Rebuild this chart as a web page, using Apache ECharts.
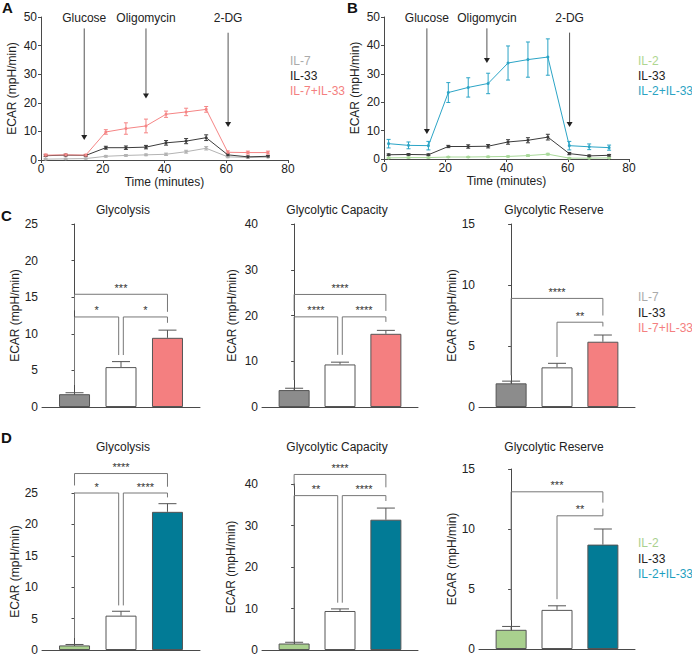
<!DOCTYPE html>
<html>
<head>
<meta charset="utf-8">
<script src="https://cdn.jsdelivr.net/npm/echarts@6/dist/echarts.min.js"></script>
<style>
  html, body { margin: 0; padding: 0; background: #fff; }
  #main { width: 692px; height: 656px; }
</style>
</head>
<body>
<div id="main"></div>
<script>
// ---- time course data (panels A, B) ----
var times = [1.5, 8, 14.5, 21, 27.5, 34, 40.5, 47, 53.5, 60.5, 67, 73.5];

var aIL7 = [0.3, 0.4, 0.5, 1.3, 1.6, 1.8, 2.0, 2.9, 4.1, 1.1, 0.9, 1.0];
var aIL7Err = [0.2, 0.2, 0.2, 0.3, 0.3, 0.3, 0.4, 0.5, 0.6, 0.3, 0.2, 0.2];
var aIL33 = [1.5, 1.7, 1.6, 4.3, 4.3, 4.5, 6.0, 6.6, 7.8, 1.8, 1.1, 1.3];
var aIL33Err = [0.3, 0.3, 0.3, 0.5, 0.6, 0.6, 0.8, 0.9, 1.0, 0.4, 0.3, 0.3];
var aBoth = [1.7, 1.8, 1.7, 9.8, 11.0, 11.9, 16.0, 16.8, 17.7, 2.7, 2.6, 2.6];
var aBothErr = [0.4, 0.3, 0.3, 0.8, 2.0, 2.4, 1.1, 1.3, 1.0, 0.5, 0.5, 0.5];

var bIL2 = [0.4, 0.5, 0.5, 0.7, 0.7, 0.8, 0.9, 1.2, 1.7, 0.3, 0.3, 0.4];
var bIL2Err = [0.2, 0.2, 0.2, 0.2, 0.2, 0.2, 0.2, 0.3, 0.3, 0.2, 0.2, 0.2];
var bIL33 = [1.5, 1.6, 1.5, 4.4, 4.4, 4.5, 6.0, 6.6, 7.7, 1.9, 1.1, 1.3];
var bIL33Err = [0.3, 0.3, 0.3, 0.4, 0.6, 0.6, 0.8, 0.9, 1.0, 0.4, 0.3, 0.3];
var bBoth = [5.4, 4.8, 4.7, 23.4, 25.2, 26.6, 33.8, 35.0, 35.9, 4.7, 4.3, 4.0];
var bBothErr = [1.5, 1.2, 1.5, 3.5, 3.4, 3.6, 6.0, 6.2, 6.4, 1.5, 1.0, 0.9];

// injections: [time, arrow top, arrow tip, label y]
var injNames = ['Glucose', 'Oligomycin', '2-DG'];
var injA = [[14, 46, 7, 49.6], [34, 46, 21.5, 49.6], [60.6, 44.5, 11.5, 49.6]];
var injB = [[14, 46, 8.8, 49.6], [33.6, 46, 33.8, 49.6], [60.6, 44.5, 11.3, 49.6]];

// ---- bar data (panels C, D) ----
var groupsC = ['IL-7', 'IL-33', 'IL-7+IL-33'];
var groupsD = ['IL-2', 'IL-33', 'IL-2+IL-33'];
var colorsC = ['#8c8c8c', '#ffffff', '#f47f80'];
var colorsD = ['#a9d08e', '#ffffff', '#027b96'];

var cGlyc = [1.75, 5.45, 9.45],  cGlycErr = [0.2, 0.75, 1.05];
var cCap  = [3.7, 9.3, 16.0],    cCapErr  = [0.4, 0.5, 0.75];
var cRes  = [1.94, 3.25, 5.35],  cResErr  = [0.18, 0.33, 0.55];
var dGlyc = [0.73, 5.47, 22.0],  dGlycErr = [0.15, 0.7, 1.3];
var dCap  = [1.56, 9.4, 31.4],   dCapErr  = [0.3, 0.5, 2.8];
var dRes  = [1.6, 3.26, 8.7],    dResErr  = [0.28, 0.34, 1.3];

// brackets: [x1, x2, y, left leg end, right leg end]
var cGlycBr = [[0, 2, 15.4, 13.2, 13.0], [0, 0.95, 12.3, 3.0, 7.1], [1.05, 2, 12.3, 7.1, 11.5]];
var cGlycStars = ['***', '*', '*'];
var cCapBr = [[0, 2, 24.6, 21.0, 21.0], [0, 0.95, 19.7, 5.9, 11.4], [1.05, 2, 19.7, 11.4, 18.6]];
var cCapStars = ['****', '****', '****'];
var cResBr = [[0, 2, 8.9, 2.6, 7.5], [1, 2, 6.95, 4.1, 6.6]];
var cResStars = ['****', '**'];
var dGlycBr = [[0, 2, 28.1, 26.2, 26.0], [0, 0.95, 25.0, 1.9, 7.1], [1.05, 2, 25.0, 7.1, 24.3]];
var dGlycStars = ['****', '*', '****'];
var dCapBr = [[0, 2, 42.3, 39.4, 39.2], [0, 0.95, 37.2, 2.1, 11.4], [1.05, 2, 37.2, 11.4, 35.9]];
var dCapStars = ['****', '**', '****'];
var dResBr = [[0, 2, 13.1, 2.4, 12.2], [1, 2, 11.1, 4.15, 11.7]];
var dResStars = ['***', '**'];

var FONT = '"Liberation Sans", Arial, sans-serif';
var AXIS = '#4a4a4a';
var INK = '#222';

var chart = echarts.init(document.getElementById('main'), null, { renderer: 'svg' });

var grids = [
  { left: 41, top: 17, width: 247, height: 143 },   // A
  { left: 384, top: 17, width: 245, height: 142 },  // B
  { left: 42, top: 224, width: 158, height: 183 },  // C glycolysis
  { left: 262, top: 224, width: 156, height: 183 }, // C capacity
  { left: 479, top: 224, width: 156, height: 183 }, // C reserve
  { left: 42, top: 493, width: 158, height: 157 },  // D glycolysis
  { left: 262, top: 484, width: 156, height: 166 }, // D capacity
  { left: 479, top: 469, width: 156, height: 180 }  // D reserve
];
grids.forEach(function (g) { g.outerBoundsMode = 'none'; });

function yAxis(idx, max, interval, gap) {
  return {
    type: 'value', gridIndex: idx, min: 0, max: max, interval: interval,
    name: 'ECAR (mpH/min)', nameLocation: 'middle', nameGap: gap,
    nameTextStyle: { fontFamily: FONT, fontSize: 12, color: INK },
    axisLine: { show: true, lineStyle: { color: AXIS, width: 1 } },
    axisTick: { show: true, length: 3, lineStyle: { color: AXIS } },
    axisLabel: { margin: 4, fontFamily: FONT, fontSize: 12, lineHeight: 11, color: INK },
    splitLine: { show: false }
  };
}
function timeAxis(idx) {
  return {
    type: 'value', gridIndex: idx, min: 0, max: 80, interval: 20,
    name: 'Time (minutes)', nameLocation: 'middle', nameGap: 15,
    nameTextStyle: { fontFamily: FONT, fontSize: 12, color: INK },
    axisLine: { lineStyle: { color: AXIS, width: 1 } },
    axisTick: { show: true, length: 3, lineStyle: { color: AXIS } },
    axisLabel: { margin: 3, fontFamily: FONT, fontSize: 12, color: INK },
    splitLine: { show: false }
  };
}
function groupAxis(idx) {
  return {
    type: 'value', gridIndex: idx, min: -0.7, max: 2.7,
    axisLine: { lineStyle: { color: AXIS, width: 1 } },
    axisTick: { show: false }, axisLabel: { show: false }, splitLine: { show: false }
  };
}

var xAxes = [timeAxis(0), timeAxis(1)];
for (var i = 2; i < 8; i++) xAxes.push(groupAxis(i));

var yAxes = [
  yAxis(0, 50, 10, 23), yAxis(1, 50, 10, 23),
  yAxis(2, 25, 5, 20), yAxis(3, 40, 10, 24), yAxis(4, 15, 5, 16),
  yAxis(5, 25, 5, 20), yAxis(6, 40, 10, 25), yAxis(7, 15, 5, 17)
];

// symmetric error bars for the time course
function errRender(color) {
  return function (params, api) {
    var x = api.value(0), y = api.value(1), e = api.value(2);
    var lo = api.coord([x, y - e]), hi = api.coord([x, y + e]);
    var st = { stroke: color, lineWidth: 1 };
    return { type: 'group', children: [
      { type: 'line', shape: { x1: lo[0], y1: lo[1], x2: hi[0], y2: hi[1] }, style: st },
      { type: 'line', shape: { x1: hi[0] - 2, y1: hi[1], x2: hi[0] + 2, y2: hi[1] }, style: st },
      { type: 'line', shape: { x1: lo[0] - 2, y1: lo[1], x2: lo[0] + 2, y2: lo[1] }, style: st }
    ] };
  };
}
// one-sided (upward) error bars for bar panels
function barErrRender(params, api) {
  var x = api.value(0), y = api.value(1), e = api.value(2);
  var lo = api.coord([x, y]), hi = api.coord([x, y + e]);
  var st = { stroke: '#555', lineWidth: 1 };
  return { type: 'group', children: [
    { type: 'line', shape: { x1: lo[0], y1: lo[1], x2: hi[0], y2: hi[1] }, style: st },
    { type: 'line', shape: { x1: hi[0] - 9, y1: hi[1], x2: hi[0] + 9, y2: hi[1] }, style: st }
  ] };
}
function bracketRender(stars) {
  return function (params, api) {
    var x1 = api.value(0), x2 = api.value(1), y = api.value(2);
    var p1 = api.coord([x1, api.value(3)]), p2 = api.coord([x1, y]);
    var p3 = api.coord([x2, y]), p4 = api.coord([x2, api.value(4)]);
    return { type: 'group', children: [
      { type: 'polyline', shape: { points: [p1, p2, p3, p4] }, style: { stroke: '#777', fill: 'none', lineWidth: 1 } },
      { type: 'text', x: (p2[0] + p3[0]) / 2, y: p2[1] - 1,
        style: { text: stars[params.dataIndex], fill: '#333', font: '11px ' + FONT, align: 'center', verticalAlign: 'bottom' } }
    ] };
  };
}
function arrowRender(params, api) {
  var t = api.value(0);
  var a = api.coord([t, api.value(1)]), b = api.coord([t, api.value(2)]);
  var ly = api.coord([t, api.value(3)])[1];
  return { type: 'group', children: [
    { type: 'line', shape: { x1: a[0], y1: a[1], x2: b[0], y2: b[1] - 4 }, style: { stroke: '#555', lineWidth: 1 } },
    { type: 'polygon', shape: { points: [[b[0] - 3, b[1] - 5], [b[0] + 3, b[1] - 5], [b[0], b[1]]] }, style: { fill: '#222' } },
    { type: 'text', x: a[0], y: ly,
      style: { text: injNames[params.dataIndex], fill: INK, font: '12px ' + FONT, align: 'center', verticalAlign: 'middle' } }
  ] };
}

function zip3(xs, ys, es) {
  return xs.map(function (x, k) { return es ? [x, ys[k], es[k]] : [x, ys[k]]; });
}

var series = [];
function addLine(grid, name, vals, errs, color) {
  series.push({
    name: name, type: 'line', xAxisIndex: grid, yAxisIndex: grid,
    data: zip3(times, vals), symbol: 'circle', symbolSize: 3,
    lineStyle: { color: color, width: 1 }, itemStyle: { color: color }
  });
  series.push({
    type: 'custom', xAxisIndex: grid, yAxisIndex: grid, clip: false,
    data: zip3(times, vals, errs), renderItem: errRender(color)
  });
}
addLine(0, 'IL-7', aIL7, aIL7Err, '#b3b3b3');
addLine(0, 'IL-33', aIL33, aIL33Err, '#3c3c3c');
addLine(0, 'IL-7+IL-33', aBoth, aBothErr, '#f58585');
addLine(1, 'IL-2', bIL2, bIL2Err, '#a9d99a');
addLine(1, 'IL-33', bIL33, bIL33Err, '#3c3c3c');
addLine(1, 'IL-2+IL-33', bBoth, bBothErr, '#2ba4c6');
series.push({ type: 'custom', xAxisIndex: 0, yAxisIndex: 0, clip: false, data: injA, renderItem: arrowRender });
series.push({ type: 'custom', xAxisIndex: 1, yAxisIndex: 1, clip: false, data: injB, renderItem: arrowRender });

function addBars(grid, vals, errs, colors, brackets, stars) {
  series.push({
    type: 'bar', xAxisIndex: grid, yAxisIndex: grid, barWidth: 31,
    data: vals.map(function (v, k) {
      return { value: [k, v], itemStyle: { color: colors[k], borderColor: '#555', borderWidth: 1 } };
    })
  });
  series.push({
    type: 'custom', xAxisIndex: grid, yAxisIndex: grid, clip: false,
    data: vals.map(function (v, k) { return [k, v, errs[k]]; }), renderItem: barErrRender
  });
  series.push({
    type: 'custom', xAxisIndex: grid, yAxisIndex: grid, clip: false,
    data: brackets, renderItem: bracketRender(stars)
  });
}
addBars(2, cGlyc, cGlycErr, colorsC, cGlycBr, cGlycStars);
addBars(3, cCap, cCapErr, colorsC, cCapBr, cCapStars);
addBars(4, cRes, cResErr, colorsC, cResBr, cResStars);
addBars(5, dGlyc, dGlycErr, colorsD, dGlycBr, dGlycStars);
addBars(6, dCap, dCapErr, colorsD, dCapBr, dCapStars);
addBars(7, dRes, dResErr, colorsD, dResBr, dResStars);

// panel letters, panel titles and text legends
function txt(text, left, top, color, size, weight, align) {
  return {
    text: text, left: left, top: top, textAlign: align || 'left', padding: 0,
    textStyle: { fontFamily: FONT, fontSize: size || 12, fontWeight: weight || 'normal', color: color || INK }
  };
}
var titles = [
  txt('A', 2, 0, '#111', 15, 'bold'), txt('B', 347, 0, '#111', 15, 'bold'),
  txt('C', 1, 208, '#111', 15, 'bold'), txt('D', 1, 430, '#111', 15, 'bold'),
  txt('Glycolysis', 123, 204, INK, 12, 'normal', 'center'),
  txt('Glycolytic Capacity', 337, 204, INK, 12, 'normal', 'center'),
  txt('Glycolytic Reserve', 554, 204, INK, 12, 'normal', 'center'),
  txt('Glycolysis', 123, 441, INK, 12, 'normal', 'center'),
  txt('Glycolytic Capacity', 337, 441, INK, 12, 'normal', 'center'),
  txt('Glycolytic Reserve', 554, 441, INK, 12, 'normal', 'center')
];
var legendA = ['#aaaaaa', INK, '#f47f80'];
var legendB = ['#aed68f', INK, '#2aa3c3'];
var legendD = ['#a9d08e', INK, '#1e9fc0'];
groupsC.forEach(function (g, k) {
  titles.push(txt(g, 290, 55 + k * 15, legendA[k]));
  titles.push(txt(g, 638, 291 + k * 15.5, legendA[k]));
});
groupsD.forEach(function (g, k) {
  titles.push(txt(g, 638, 55 + k * 15, legendB[k]));
  titles.push(txt(g, 638, 537 + k * 15.5, legendD[k]));
});

chart.setOption({
  backgroundColor: '#fff',
  animation: false,
  title: titles,
  grid: grids,
  xAxis: xAxes,
  yAxis: yAxes,
  series: series
});
</script>
</body>
</html>
